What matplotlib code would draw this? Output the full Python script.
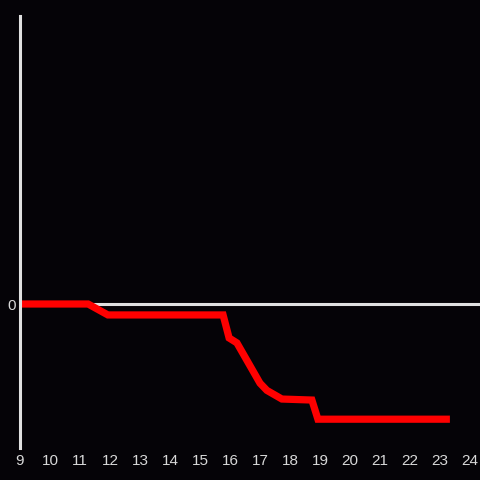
import matplotlib
matplotlib.use("Agg")
import matplotlib.pyplot as plt

# values
hours = [9, 11.27, 11.93, 15.77, 15.97, 16.23, 17.0, 17.23, 17.73, 18.73, 18.93, 23.33]
values = [0, 0, -0.076, -0.076, -0.236, -0.27, -0.55, -0.60, -0.66, -0.667, -0.80, -0.80]
xticks = list(range(9, 25))

bg = "#050307"
fg = "#e0e0e0"

plt.rcParams["font.family"] = ["Liberation Sans", "DejaVu Sans"]

fig = plt.figure(figsize=(4.8, 4.8), dpi=100, facecolor=bg)
ax = fig.add_axes([20 / 480, 32 / 480, 460 / 480, 432 / 480], facecolor=bg)

ax.axhline(0, color=fg, lw=2.2, zorder=1)
ax.plot(hours, values, color="#ff0000", lw=5.2, solid_joinstyle="miter",
        solid_capstyle="butt", zorder=2)

ax.set_xlim(9, 24 + 1 / 3)
ax.set_ylim(-1, 2)
ax.set_xticks(xticks)
ax.set_xticklabels([str(t) for t in xticks])
ax.set_yticks([0])
ax.set_yticklabels(["0"])
ax.tick_params(length=0, colors="#d8d8d8", labelsize=11)
ax.tick_params(axis="x", pad=4)
ax.tick_params(axis="y", pad=3)

for s in ["top", "right", "bottom"]:
    ax.spines[s].set_visible(False)
ax.spines["left"].set_color(fg)
ax.spines["left"].set_linewidth(2.2)

fig.savefig("out.png", facecolor=bg)
